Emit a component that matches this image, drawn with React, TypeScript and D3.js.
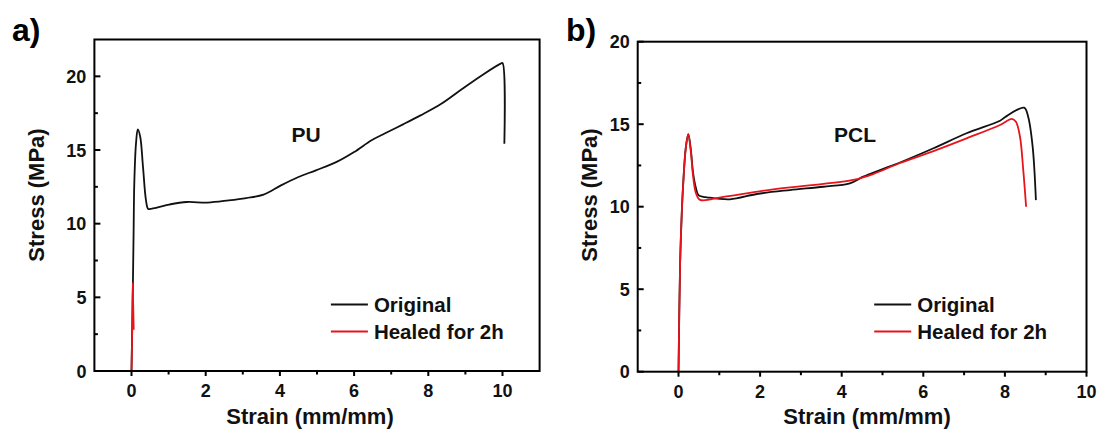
import React from "react";
import * as d3 from "d3";

// ---------- Data ----------
// Panel a) PU
const puOriginalStrain = [0, 0.03, 0.056, 0.075, 0.12, 0.17, 0.235, 0.31, 0.39, 0.45, 0.55, 1.02, 1.49, 2.05, 2.62, 3.09, 3.56, 4.03, 4.5, 4.97, 5.53, 6.0, 6.47, 6.85, 7.32, 7.79, 8.35, 8.92, 9.48, 9.95, 10.0, 10.05];
const puOriginalStress = [0, 4.5, 9.3, 12.7, 15.4, 16.4, 15.9, 13.85, 11.6, 11.0, 11.02, 11.3, 11.47, 11.43, 11.58, 11.74, 11.97, 12.6, 13.17, 13.62, 14.19, 14.86, 15.66, 16.15, 16.74, 17.35, 18.14, 19.16, 20.13, 20.86, 20.9, 15.43];
const puHealedStrain = [0, 0.02, 0.035, 0.045, 0.06];
const puHealedStress = [0, 3.0, 6.0, 4.5, 2.8];

// Panel b) PCL
const pclOriginalStrain = [0, 0.04, 0.08, 0.12, 0.18, 0.24, 0.3, 0.36, 0.43, 0.49, 0.61, 0.69, 1.26, 1.92, 2.73, 3.55, 4.2, 4.53, 4.94, 5.43, 6.25, 7.06, 7.88, 8.0, 8.47, 8.57, 8.68, 8.76];
const pclOriginalStress = [0, 6.6, 9.6, 11.6, 13.6, 14.4, 13.5, 12.0, 11.1, 10.7, 10.6, 10.57, 10.45, 10.77, 11.01, 11.21, 11.42, 11.82, 12.22, 12.68, 13.54, 14.45, 15.21, 15.42, 16.0, 15.45, 13.64, 10.4];
const pclHealedStrain = [0, 0.04, 0.08, 0.12, 0.18, 0.24, 0.3, 0.36, 0.43, 0.53, 1.1, 2.32, 3.55, 4.28, 4.77, 5.43, 6.25, 7.06, 7.88, 8.17, 8.27, 8.37, 8.45, 8.52];
const pclHealedStress = [0, 6.6, 9.6, 11.6, 13.6, 14.4, 13.4, 11.8, 10.8, 10.41, 10.6, 11.05, 11.38, 11.62, 11.98, 12.65, 13.37, 14.14, 14.95, 15.32, 15.15, 14.24, 12.22, 10.0];

const xTicksA = [0, 2, 4, 6, 8, 10];
const xTicksB = [0, 2, 4, 6, 8, 10];
const yTicksA = [0, 5, 10, 15, 20];
const yTicksB = [0, 5, 10, 15, 20];
const xMinorA = [1, 3, 5, 7, 9];
const xMinorB = [1, 3, 5, 7, 9];
const yMinorA = [2.5, 7.5, 12.5, 17.5];
const yMinorB = [2.5, 7.5, 12.5, 17.5];

const seriesNames = ["Original", "Healed for 2h"];
const seriesColors = ["#111111", "#e8141b"];

const FONT = "'Liberation Sans', Arial, Helvetica, sans-serif";

type PanelProps = {
  label: string;
  name: string;
  left: number;
  right: number;
  top: number;
  bottom: number;
  xDomain: [number, number];
  yDomain: [number, number];
  xTicks: number[];
  yTicks: number[];
  xMinor: number[];
  yMinor: number[];
  series: { x: number[]; y: number[] }[];
  labelX: number;
  nameX: number;
  xTitleX: number;
  yTitleX: number;
};

function Panel(p: PanelProps) {
  const x = d3.scaleLinear().domain(p.xDomain).range([p.left, p.right]);
  const y = d3.scaleLinear().domain(p.yDomain).range([p.bottom, p.top]);
  const line = d3
    .line<[number, number]>()
    .x((d) => x(d[0]))
    .y((d) => y(d[1]))
    .curve(d3.curveCatmullRom.alpha(0.5));

  const legX = p.left + 236.5;
  return (
    <g>
      {p.series.map((s, i) => (
        <path
          key={i}
          d={line(s.x.map((v, k) => [v, s.y[k]] as [number, number])) || ""}
          fill="none"
          stroke={seriesColors[i]}
          strokeWidth={1.8}
          strokeLinejoin="round"
        />
      ))}
      <rect
        x={p.left}
        y={p.top}
        width={p.right - p.left}
        height={p.bottom - p.top}
        fill="none"
        stroke="#000"
        strokeWidth={2}
      />
      {p.xTicks.map((t) => (
        <g key={"xt" + t}>
          <line x1={x(t)} x2={x(t)} y1={p.bottom} y2={p.bottom + 5} stroke="#000" strokeWidth={2} />
          <text
            x={x(t)}
            y={p.bottom + 26}
            textAnchor="middle"
            fontFamily={FONT}
            fontWeight="bold"
            fontSize={18}
            fill="#111"
          >
            {t}
          </text>
        </g>
      ))}
      {p.xMinor.map((t) => (
        <line key={"xm" + t} x1={x(t)} x2={x(t)} y1={p.bottom} y2={p.bottom + 3.5} stroke="#000" strokeWidth={2} />
      ))}
      {p.yTicks.map((t) => (
        <g key={"yt" + t}>
          <line x1={p.left} x2={p.left + 6} y1={y(t)} y2={y(t)} stroke="#000" strokeWidth={2} />
          <text
            x={p.left - 8}
            y={y(t) + 6.5}
            textAnchor="end"
            fontFamily={FONT}
            fontWeight="bold"
            fontSize={18}
            fill="#111"
          >
            {t}
          </text>
        </g>
      ))}
      {p.yMinor.map((t) => (
        <line key={"ym" + t} x1={p.left} x2={p.left + 3.5} y1={y(t)} y2={y(t)} stroke="#000" strokeWidth={2} />
      ))}
      <text
        x={p.xTitleX}
        y={424}
        textAnchor="middle"
        fontFamily={FONT}
        fontWeight="bold"
        fontSize={22}
        fill="#111"
      >
        Strain (mm/mm)
      </text>
      <text
        transform={`translate(${p.yTitleX},${195}) rotate(-90)`}
        textAnchor="middle"
        fontFamily={FONT}
        fontWeight="bold"
        fontSize={22}
        fill="#111"
      >
        Stress (MPa)
      </text>
      <text x={p.labelX} y={41} fontFamily={FONT} fontWeight="bold" fontSize={32} fill="#000">
        {p.label}
      </text>
      <text
        x={p.nameX}
        y={142}
        textAnchor="middle"
        fontFamily={FONT}
        fontWeight="bold"
        fontSize={21}
        fill="#111"
      >
        {p.name}
      </text>
      {seriesNames.map((n, i) => (
        <g key={n}>
          <line
            x1={legX}
            x2={legX + 37}
            y1={304.5 + i * 27}
            y2={304.5 + i * 27}
            stroke={seriesColors[i]}
            strokeWidth={1.8}
          />
          <text
            x={legX + 43}
            y={304.5 + i * 27 + 7}
            fontFamily={FONT}
            fontWeight="bold"
            fontSize={20.5}
            fill="#111"
          >
            {n}
          </text>
        </g>
      ))}
    </g>
  );
}

export default function App() {
  return (
    <svg
      width={1099}
      height={430}
      style={{ position: "absolute", left: 0, top: 0, background: "#fff" }}
    >
      <rect x={0} y={0} width={1099} height={430} fill="#fff" />
      <Panel
        label="a)"
        name="PU"
        left={94.4}
        right={539.6}
        top={39.5}
        bottom={371}
        xDomain={[-1, 11]}
        yDomain={[0, 22.5]}
        xTicks={xTicksA}
        yTicks={yTicksA}
        xMinor={xMinorA}
        yMinor={yMinorA}
        series={[
          { x: puOriginalStrain, y: puOriginalStress },
          { x: puHealedStrain, y: puHealedStress },
        ]}
        labelX={12}
        nameX={306}
        xTitleX={310}
        yTitleX={44}
      />
      <Panel
        label="b)"
        name="PCL"
        left={637.7}
        right={1086.5}
        top={41.7}
        bottom={371.7}
        xDomain={[-1, 10]}
        yDomain={[0, 20]}
        xTicks={xTicksB}
        yTicks={yTicksB}
        xMinor={xMinorB}
        yMinor={yMinorB}
        series={[
          { x: pclOriginalStrain, y: pclOriginalStress },
          { x: pclHealedStrain, y: pclHealedStress },
        ]}
        labelX={566}
        nameX={855}
        xTitleX={867}
        yTitleX={597}
      />
    </svg>
  );
}
